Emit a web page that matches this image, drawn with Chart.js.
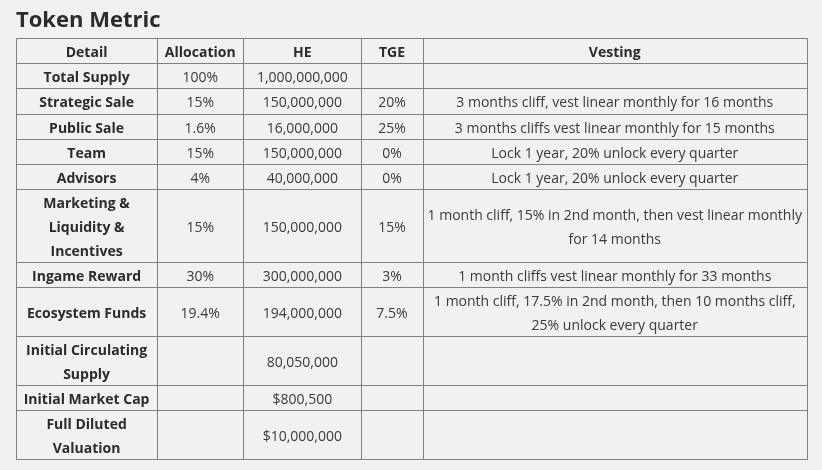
<!DOCTYPE html>
<html>
<head>
<meta charset="utf-8">
<title>Token Metric</title>
<script src="https://cdn.jsdelivr.net/npm/chart.js@4.4.1/dist/chart.umd.min.js"></script>
<style>
  html, body { margin: 0; padding: 0; background: #f2f0f1; }
  #wrap { width: 822px; height: 470px; }
</style>
</head>
<body>
<div id="wrap"><canvas id="table" width="822" height="470"></canvas></div>
<script>
// ---------------------------------------------------------------------------
// Table content, one array per column ("\n" = line break as in the picture)
// ---------------------------------------------------------------------------
const headers = ['Detail', 'Allocation', 'HE', 'TGE', 'Vesting'];

const details = [
  'Total Supply', 'Strategic Sale', 'Public Sale', 'Team', 'Advisors',
  'Marketing &\nLiquidity &\nIncentives', 'Ingame Reward', 'Ecosystem Funds',
  'Initial Circulating\nSupply', 'Initial Market Cap', 'Full Diluted\nValuation',
];
const allocation = ['100%', '15%', '1.6%', '15%', '4%', '15%', '30%', '19.4%', '', '', ''];
const heAmount = [
  '1,000,000,000', '150,000,000', '16,000,000', '150,000,000', '40,000,000',
  '150,000,000', '300,000,000', '194,000,000', '80,050,000', '$800,500', '$10,000,000',
];
const tge = ['', '20%', '25%', '0%', '0%', '15%', '3%', '7.5%', '', '', ''];
const vesting = [
  '',
  '3 months cliff, vest linear monthly for 16 months',
  '3 months cliffs vest linear monthly for 15 months',
  'Lock 1 year, 20% unlock every quarter',
  'Lock 1 year, 20% unlock every quarter',
  '1 month cliff, 15% in 2nd month, then vest linear monthly\nfor 14 months',
  '1 month cliffs vest linear monthly for 33 months',
  '1 month cliff, 17.5% in 2nd month, then 10 months cliff,\n25% unlock every quarter',
  '', '', '',
];

// ---------------------------------------------------------------------------
// Layout (in scale units: 1 unit = 1 px at this canvas size)
// ---------------------------------------------------------------------------
const colWidths = [141, 86, 118, 61, 384];
const LINE_H = 24;
const FONT = "'Open Sans', 'Noto Sans', sans-serif";

const rows = [headers].concat(details.map((d, i) =>
  [d, allocation[i], heAmount[i], tge[i], vesting[i]]));
const rowHeights = rows.map(r => Math.max(...r.map(s => s.split('\n').length)) * LINE_H + 1);
const colEdges = colWidths.reduce((a, w) => (a.push(a[a.length - 1] + w), a), [0]);
const rowEdges = rowHeights.reduce((a, h) => (a.push(a[a.length - 1] + h), a), [0]);
const totalW = colEdges[colEdges.length - 1];
const totalH = rowEdges[rowEdges.length - 1];

// Draws the grid + the cell texts using the chart's own x / y scales
const tablePlugin = {
  id: 'tableCells',
  afterDatasetsDraw(chart) {
    const { ctx, scales: { x, y } } = chart;
    const sx = v => Math.round(x.getPixelForValue(v)) + 0.5;
    const sy = v => Math.round(y.getPixelForValue(v)) - 0.5;

    ctx.save();
    ctx.strokeStyle = '#808080';
    ctx.lineWidth = 1;
    ctx.beginPath();
    rowEdges.forEach(r => { ctx.moveTo(sx(0), sy(r)); ctx.lineTo(sx(totalW), sy(r)); });
    colEdges.forEach(c => { ctx.moveTo(sx(c), sy(0)); ctx.lineTo(sx(c), sy(totalH)); });
    ctx.stroke();

    ctx.textAlign = 'center';
    ctx.textBaseline = 'middle';
    rows.forEach((row, ri) => {
      row.forEach((txt, ci) => {
        if (!txt) return;
        const bold = ri === 0 || ci === 0;
        ctx.font = `${bold ? 'bold ' : ''}14px ${FONT}`;
        ctx.fillStyle = bold ? '#2b2b2b' : '#3a3a3a';
        const lines = txt.split('\n');
        const cx = (x.getPixelForValue(colEdges[ci]) + x.getPixelForValue(colEdges[ci + 1])) / 2;
        const top = y.getPixelForValue(rowEdges[ri]);
        const cellH = y.getPixelForValue(rowEdges[ri + 1]) - top;
        const start = top + (cellH - lines.length * LINE_H) / 2;
        lines.forEach((ln, li) => ctx.fillText(ln, cx, start + LINE_H * (li + 0.5) + 1.5));
      });
    });
    ctx.restore();
  }
};

new Chart(document.getElementById('table'), {
  type: 'scatter',
  data: { datasets: [] },
  options: {
    responsive: false,
    animation: false,
    layout: { padding: { left: 16, right: 15, top: 0, bottom: 10 } },
    plugins: {
      legend: { display: false },
      tooltip: { enabled: false },
      title: {
        display: true,
        text: 'Token Metric',
        align: 'start',
        color: '#2b2b2b',
        font: { family: FONT, size: 22, weight: 'bold', lineHeight: 1.2 },
        padding: { top: 8, bottom: 5 },
      },
    },
    scales: {
      x: { type: 'linear', min: 0, max: totalW, display: false },
      y: { type: 'linear', min: 0, max: totalH, reverse: true, display: false },
    },
  },
  plugins: [tablePlugin],
});
</script>
</body>
</html>
